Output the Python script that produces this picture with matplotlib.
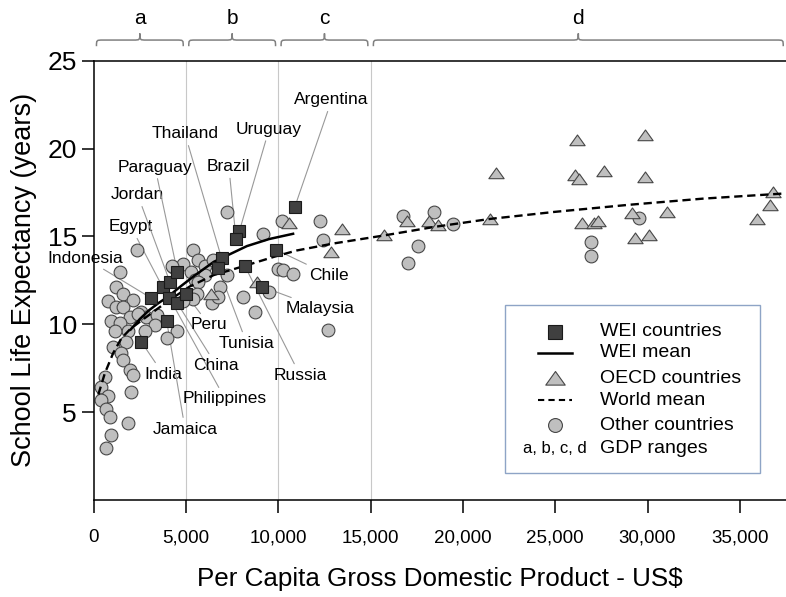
import matplotlib.pyplot as plt
import matplotlib.patches as mpatches
import matplotlib.transforms as mtransforms
from matplotlib.path import Path

plt.rcParams['font.family'] = ['Liberation Sans', 'DejaVu Sans']

# WEI countries (per capita GDP US$, school life expectancy years)
wei_names = ['India', 'Indonesia', 'Egypt', 'Jordan', 'Paraguay', 'Philippines', 'China',
             'Peru', 'Jamaica', 'Thailand', 'Tunisia', 'Uruguay', 'Brazil', 'Russia',
             'Malaysia', 'Chile', 'Argentina']
wei_gdp = [2580, 3100, 3740, 4130, 4530, 4100, 4530, 5000, 3950, 6930, 6750, 7890, 7710,
           8195, 9100, 9860, 10900]
wei_sle = [9.0, 11.5, 12.1, 12.4, 13.0, 11.5, 11.2, 11.7, 10.2, 13.75, 13.2, 15.3, 14.85,
           13.3, 12.15, 14.25, 16.7]
# where the names are written
label_x = [3760, -450, 2025, 2385, 3320, 7120, 6630, 6250, 4950, 4945, 8290, 9500, 7320,
           11180, 12260, 12750, 12890]
label_y = [7.17, 13.76, 15.54, 17.36, 18.95, 5.75, 7.68, 9.96, 4.04, 20.83, 8.92, 21.1, 18.97,
           7.1, 10.91, 12.8, 22.77]

# OECD countries
oecd_gdp = [6350, 8850, 10600, 13430, 12870, 15710, 16950, 18180, 18670, 21780, 21470, 26190,
            29860, 26070, 26300, 27640, 29860, 26470, 27120, 27300, 29140, 29320, 30100, 31070,
            35910, 36630, 36780]
oecd_sle = [11.75, 12.4, 15.75, 15.43, 14.1, 15.1, 15.85, 15.9, 15.65, 18.6, 16.0, 20.5,
            20.75, 18.5, 18.25, 18.75, 18.4, 15.75, 15.75, 15.9, 16.35, 14.9, 15.1, 16.4,
            16.0, 16.8, 17.5]

# other countries
other_gdp = [2330, 1440, 1225, 1590, 775, 2130, 1225, 1600, 2580, 2850, 1950, 2400, 955, 1400,
             3410, 3320, 1875, 1150, 2780, 1750, 1045, 1500, 1590, 1950, 2130, 600, 410, 775,
             410, 685, 865, 2040, 1860, 955, 685,
             4500, 3955, 4300, 4840, 5380, 5650, 6050, 5290, 5470, 6030, 7200, 5670, 6840,
             5580, 6390, 5395, 6750, 4850, 6480, 4225, 7200,
             8100, 8740, 9510, 10000, 10240, 10810, 9150, 10180, 12260, 12400, 12710,
             16770, 18450, 19450, 17550, 17040, 26940, 26940, 29550]
other_sle = [14.2, 13.0, 12.1, 11.7, 11.3, 11.4, 11.0, 11.0, 10.7, 10.4, 10.4, 10.6, 10.2, 10.05,
             10.5, 9.95, 9.6, 9.6, 9.6, 9.0, 8.7, 8.35, 7.95, 7.4, 7.1, 7.0, 6.45, 5.9,
             5.7, 5.2, 4.75, 6.15, 4.4, 3.7, 2.95,
             9.6, 9.2, 13.25, 13.45, 14.2, 13.65, 13.3, 13.0, 12.5, 12.8, 12.8, 12.4, 12.1,
             11.75, 11.2, 11.45, 11.55, 11.3, 13.65, 13.3, 16.4,
             11.55, 10.7, 11.85, 13.15, 13.1, 12.85, 15.15, 15.9, 15.85, 14.8, 9.65,
             16.15, 16.4, 15.7, 14.45, 13.5, 14.7, 13.9, 16.05]

# mean curves
wei_mean_gdp = [2000, 2500, 3000, 3500, 4000, 4700, 5500, 6500, 7500, 8300, 9500, 10800]
wei_mean_sle = [9.7, 10.3, 10.8, 11.2, 11.55, 12.15, 12.8, 13.55, 14.05, 14.45, 14.85, 15.15]
world_mean_gdp = [250, 600, 1050, 1500, 2000, 2700, 4000, 5200, 6500, 8100, 9800, 11000, 13000,
                  15700, 18500, 21500, 25000, 29000, 33000, 37500]
world_mean_sle = [6.0, 7.2, 8.35, 9.2, 9.75, 10.3, 11.3, 12.15, 12.8, 13.3, 13.85, 14.2, 14.6,
                  15.05, 15.55, 16.0, 16.4, 16.8, 17.15, 17.45]

# GDP ranges a-d
range_names = ['a', 'b', 'c', 'd']
range_edges = [0, 5000, 10000, 15000, 37500]

# a flat triangle like the original one
tri = Path([(-1, -0.68), (1, -0.68), (0, 0.72), (-1, -0.68)],
           [Path.MOVETO, Path.LINETO, Path.LINETO, Path.CLOSEPOLY])

fig = plt.figure(figsize=(7.86, 5.97), dpi=100)
ax = fig.add_axes([93.7 / 786, 97 / 597, 692.3 / 786, 439.3 / 597])
ax.set_xlim(0, 37500)
ax.set_ylim(0, 25)

for x in range_edges[1:4]:
    ax.axvline(x, color='#c8c8c8', lw=0.8, zorder=0)

ax.plot(other_gdp, other_sle, 'o', ms=9.2, mfc='#bfbfbf', mec='#474747', mew=0.8, ls='none', zorder=2)
ax.plot(oecd_gdp, oecd_sle, marker=tri, ms=11, mfc='#bfbfbf', mec='#474747', mew=0.8, ls='none', zorder=2.1)
ax.plot(world_mean_gdp, world_mean_sle, color='black', lw=1.7, ls=(0, (3.5, 2)), zorder=3)
ax.plot(wei_mean_gdp, wei_mean_sle, color='black', lw=1.8, zorder=3)
ax.plot(wei_gdp, wei_sle, 's', ms=8, mfc='#404040', mec='#1a1a1a', mew=0.8, ls='none', zorder=4)

for name, gx, gy, lx, ly in zip(wei_names, wei_gdp, wei_sle, label_x, label_y):
    ax.annotate(name, xy=(gx, gy), xytext=(lx, ly), ha='center', va='center', fontsize=12.5,
                annotation_clip=False, zorder=1.5,
                arrowprops=dict(arrowstyle='-', color='#999999', lw=0.8, shrinkA=1, shrinkB=0))

# axes styling
for side in ['left', 'bottom', 'top']:
    ax.spines[side].set_linewidth(1.1)
ax.spines['right'].set_visible(False)
ax.set_xticks(range(0, 35001, 5000))
ax.set_xticklabels(['{:,}'.format(v) for v in range(0, 35001, 5000)], fontsize=13.5)
ax.set_yticks([5, 10, 15, 20, 25])
ax.set_yticklabels(['5', '10', '15', '20', '25'], fontsize=19)
ax.tick_params(axis='x', direction='out', length=9, width=1.1, pad=12)
ax.tick_params(axis='y', direction='out', length=9, width=1.1, pad=3)
ax.set_xlabel('Per Capita Gross Domestic Product - US$', fontsize=18.7)
ax.set_ylabel('School Life Expectancy (years)', fontsize=19.5)
ax.xaxis.set_label_coords(0.5, -0.152)
ax.yaxis.set_label_coords(-0.082, 0.5)

# braces over the GDP ranges
bt = mtransforms.blended_transform_factory(ax.transData, ax.transAxes)
y_end, y_line, y_peak = 1.033, 1.047, 1.062
d = 350
for name, x0, x1 in zip(range_names, range_edges[:-1], range_edges[1:]):
    x0 += 150
    x1 -= 150
    xm = (x0 + x1) / 2
    verts = [(x0, y_end), (x0, y_line), (x0, y_line), (x0 + d, y_line),
             (xm - d, y_line), (xm, y_line), (xm, y_line), (xm, y_peak),
             (xm, y_line), (xm, y_line), (xm + d, y_line),
             (x1 - d, y_line), (x1, y_line), (x1, y_line), (x1, y_end)]
    codes = [Path.MOVETO, Path.CURVE4, Path.CURVE4, Path.CURVE4,
             Path.LINETO, Path.CURVE4, Path.CURVE4, Path.CURVE4,
             Path.CURVE4, Path.CURVE4, Path.CURVE4,
             Path.LINETO, Path.CURVE4, Path.CURVE4, Path.CURVE4]
    ax.add_patch(mpatches.PathPatch(Path(verts, codes), fc='none', ec='#808080', lw=1.1,
                                    transform=bt, clip_on=False))
    ax.text((x0 + x1) / 2, 1.095, name, transform=bt, ha='center', va='center', fontsize=15)

# legend box
ax.add_patch(mpatches.Rectangle((0.594, 0.0615), 0.3685, 0.3824, transform=ax.transAxes,
                                fc='white', ec='#8ea4c6', lw=1.0, zorder=5))
rows = [0.3831, 0.3353, 0.2770, 0.2276, 0.1707, 0.1176]
mx = 0.6663
tx = 0.7313
ax.plot([mx], [rows[0]], 's', ms=10, mfc='#404040', mec='#1a1a1a', mew=0.8, transform=ax.transAxes, zorder=6)
ax.plot([0.6422, 0.6904], [rows[1]] * 2, color='black', lw=1.8, transform=ax.transAxes, zorder=6)
ax.plot([mx], [rows[2]], marker=tri, ms=14, mfc='#bfbfbf', mec='#474747', mew=0.8, transform=ax.transAxes, zorder=6)
ax.plot([0.6422, 0.6904], [rows[3]] * 2, color='black', lw=1.5, ls=(0, (3, 2)), transform=ax.transAxes, zorder=6)
ax.plot([mx], [rows[4]], 'o', ms=10, mfc='#bfbfbf', mec='#474747', mew=0.8, transform=ax.transAxes, zorder=6)
ax.text(mx, rows[5], 'a, b, c, d', transform=ax.transAxes, ha='center', va='center', fontsize=12, zorder=6)
legend_texts = ['WEI countries', 'WEI mean', 'OECD countries', 'World mean', 'Other countries', 'GDP ranges']
for t, y in zip(legend_texts, rows):
    ax.text(tx, y, t, transform=ax.transAxes, ha='left', va='center', fontsize=14, zorder=6)

fig.savefig('out.png', dpi=100)
